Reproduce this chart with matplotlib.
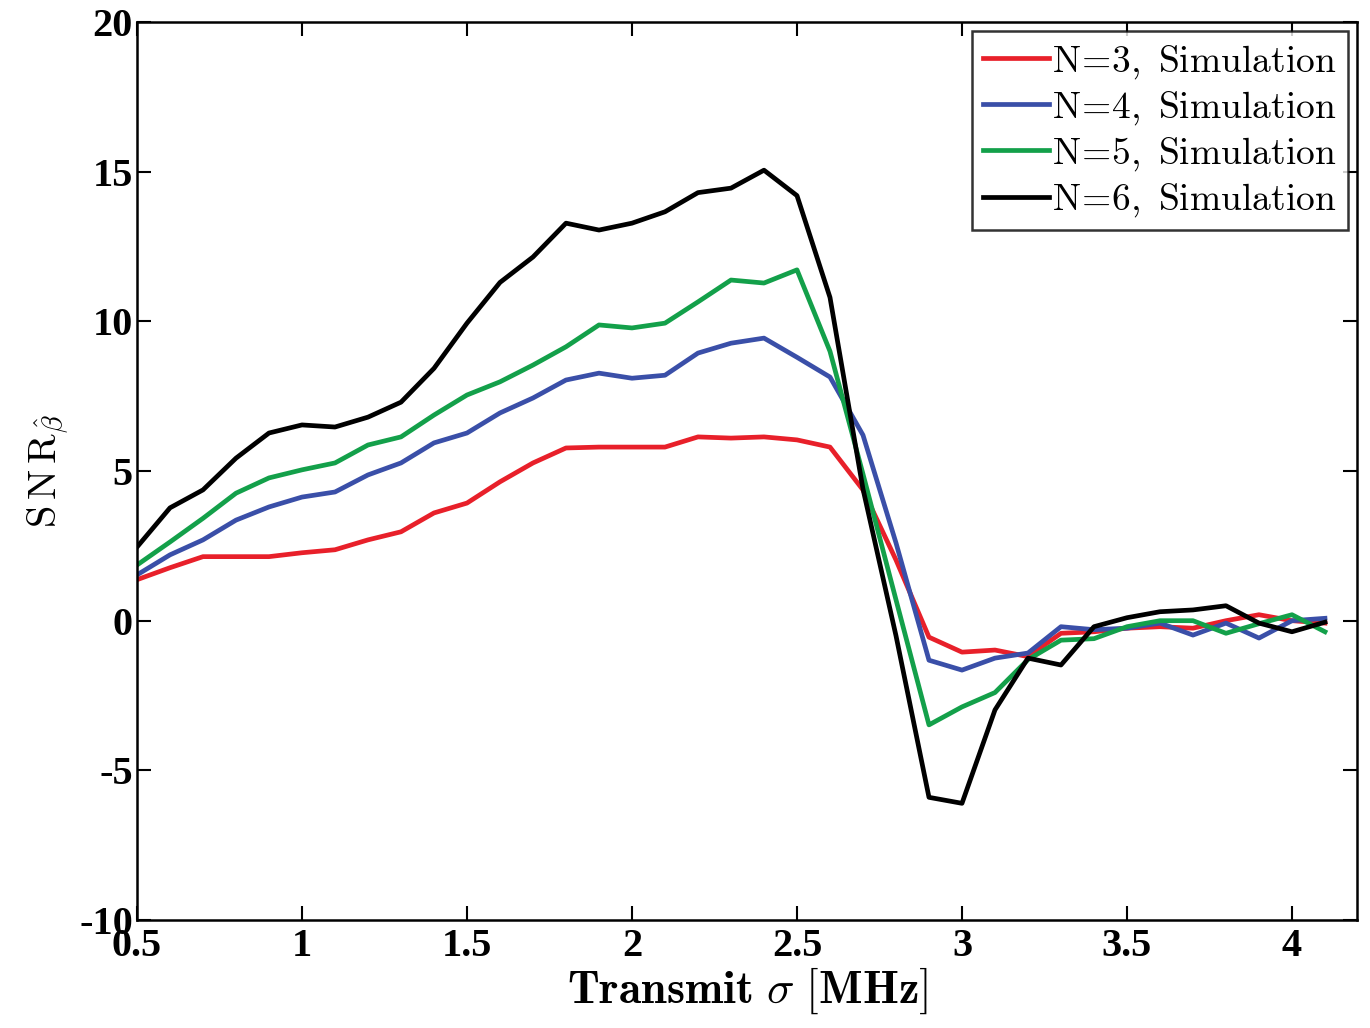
import matplotlib
matplotlib.use("Agg")
import matplotlib.pyplot as plt
import numpy as np

plt.rcParams['mathtext.fontset'] = 'cm'

sigma = [0.5, 0.6, 0.7, 0.8, 0.9, 1.0, 1.1, 1.2, 1.3, 1.4, 1.5, 1.6, 1.7, 1.8, 1.9,
         2.0, 2.1, 2.2, 2.3, 2.4, 2.5, 2.6, 2.7, 2.8, 2.9, 3.0, 3.1, 3.2, 3.3, 3.4,
         3.5, 3.6, 3.7, 3.8, 3.9, 4.0, 4.1]

snr_n3 = [1.37, 1.77, 2.14, 2.14, 2.14, 2.27, 2.37, 2.7, 2.97, 3.6, 3.93, 4.64, 5.27, 5.77, 5.8,
          5.8, 5.8, 6.14, 6.1, 6.14, 6.04, 5.8, 4.37, 2.03, -0.55, -1.05, -0.98, -1.2, -0.42, -0.37,
          -0.25, -0.2, -0.25, 0.0, 0.2, 0.0, -0.08]
snr_n4 = [1.53, 2.2, 2.7, 3.36, 3.8, 4.13, 4.3, 4.87, 5.27, 5.94, 6.27, 6.94, 7.44, 8.04, 8.27,
          8.1, 8.2, 8.94, 9.27, 9.44, 8.8, 8.14, 6.2, 2.6, -1.32, -1.65, -1.25, -1.08, -0.2, -0.3,
          -0.25, -0.08, -0.48, -0.08, -0.58, 0.0, 0.08]
snr_n5 = [1.86, 2.63, 3.42, 4.26, 4.77, 5.04, 5.27, 5.87, 6.14, 6.87, 7.54, 7.98, 8.54, 9.15, 9.88,
          9.78, 9.94, 10.65, 11.38, 11.28, 11.72, 9.0, 4.9, 0.7, -3.48, -2.88, -2.4, -1.3, -0.65, -0.6,
          -0.2, 0.0, 0.0, -0.42, -0.1, 0.2, -0.37]
snr_n6 = [2.46, 3.77, 4.37, 5.43, 6.27, 6.54, 6.47, 6.8, 7.3, 8.43, 9.94, 11.3, 12.15, 13.28, 13.05,
          13.28, 13.66, 14.3, 14.45, 15.05, 14.2, 10.8, 4.4, -0.5, -5.9, -6.1, -2.98, -1.25, -1.48, -0.2,
          0.1, 0.3, 0.36, 0.5, -0.08, -0.37, -0.05]

series = [
    (snr_n3, '#e8202a', r'$\mathrm{N\!=\!3,\ Simulation}$'),
    (snr_n4, '#3a4fa8', r'$\mathrm{N\!=\!4,\ Simulation}$'),
    (snr_n5, '#13a04a', r'$\mathrm{N\!=\!5,\ Simulation}$'),
    (snr_n6, '#000000', r'$\mathrm{N\!=\!6,\ Simulation}$'),
]

xticks = [0.5, 1, 1.5, 2, 2.5, 3, 3.5, 4]
xticklabels = ['0.5', '1', '1.5', '2', '2.5', '3', '3.5', '4']
yticks = [-10, -5, 0, 5, 10, 15, 20]
yticklabels = ['-10', '-5', '0', '5', '10', '15', '20']

fig = plt.figure(figsize=(13.7, 10.28), dpi=100)
ax = fig.add_axes([0.1, 0.105, 0.8905, 0.8736])

for vals, col, lab in series:
    ax.plot(sigma, vals, color=col, lw=3.4, label=lab)

ax.set_xlim(0.5, 4.197)
ax.set_ylim(-10, 20)
ax.set_xticks(xticks)
ax.set_yticks(yticks)
tfont = dict(family='Liberation Serif', weight='bold', size=29)
ax.set_xticklabels(xticklabels, fontdict=tfont)
ax.set_yticklabels(yticklabels, fontdict=tfont)
ax.tick_params(direction='in', length=10, width=1.5, top=True, right=True, pad=3)
ax.tick_params(axis='x', pad=6)
for s in ax.spines.values():
    s.set_linewidth(1.8)

ax.set_xlabel(r'$\mathbf{Transmit}\ \sigma\ \mathrm{[}\mathbf{MHz}\mathrm{]}$', fontsize=33, labelpad=0)
ax.set_ylabel(r'$\mathrm{S\,N\,R}_{\hat{\beta}}$', fontsize=29, labelpad=6)

leg = ax.legend(loc='upper right', fontsize=27, frameon=True, fancybox=False,
                edgecolor='black', handlelength=1.75, handletextpad=0.08,
                borderaxespad=0.25, labelspacing=0.22, borderpad=0.3)
leg.get_frame().set_linewidth(1.8)

fig.savefig('out.png', dpi=100)
